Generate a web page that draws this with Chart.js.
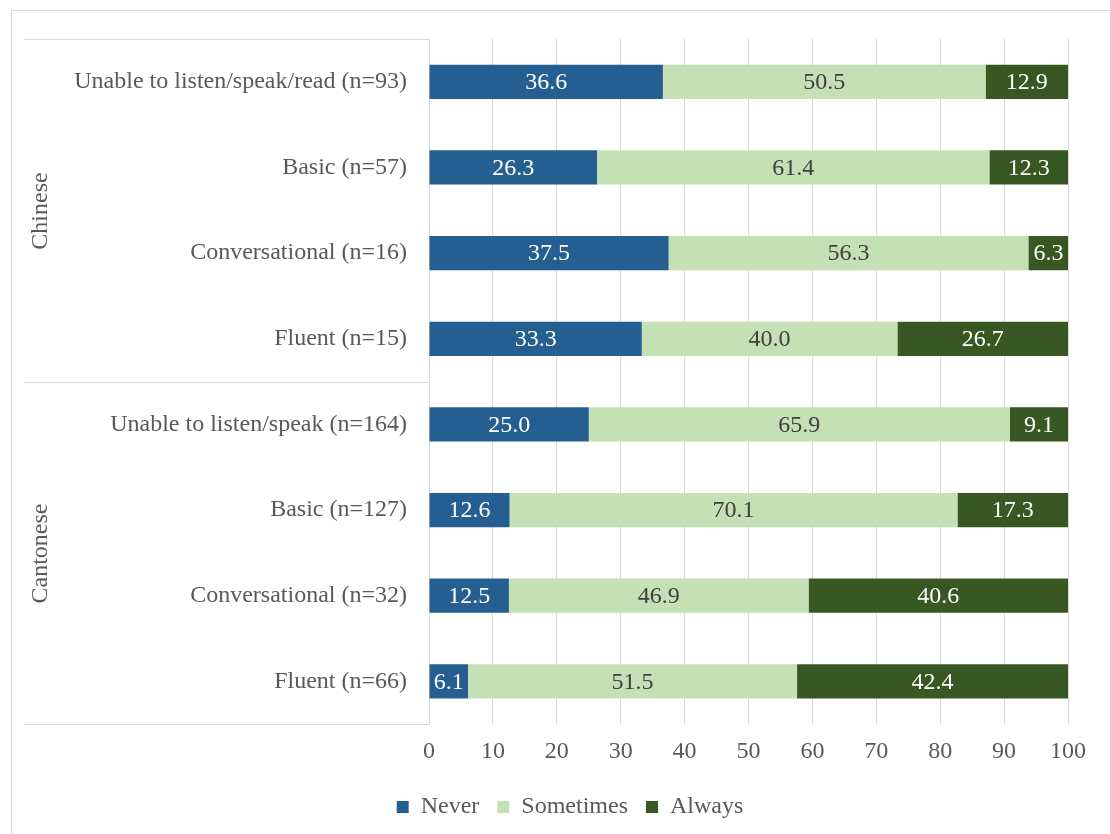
<!DOCTYPE html>
<html>
<head>
<meta charset="utf-8">
<script src="https://cdn.jsdelivr.net/npm/chart.js@4/dist/chart.umd.min.js"></script>
<style>
  body { margin: 0; background: #fff; }
</style>
</head>
<body>
<canvas id="langChart" width="1110" height="834"></canvas>
<script>
const categories = [
  "Unable to listen/speak/read (n=93)",
  "Basic (n=57)",
  "Conversational (n=16)",
  "Fluent (n=15)",
  "Unable to listen/speak (n=164)",
  "Basic (n=127)",
  "Conversational (n=32)",
  "Fluent (n=66)"
];
const groups = [
  { name: "Chinese", from: 0, to: 3 },
  { name: "Cantonese", from: 4, to: 7 }
];
const neverVals = [36.6, 26.3, 37.5, 33.3, 25.0, 12.6, 12.5, 6.1];
const sometimesVals = [50.5, 61.4, 56.3, 40.0, 65.9, 70.1, 46.9, 51.5];
const alwaysVals = [12.9, 12.3, 6.3, 26.7, 9.1, 17.3, 40.6, 42.4];
const xTicks = [0, 10, 20, 30, 40, 50, 60, 70, 80, 90, 100];

const FONT = "'Liberation Serif', 'Times New Roman', serif";
const TEXT = "#595959";
const LINE = "#d9d9d9";

// frame, group column and its labels
const groupColumn = {
  id: "groupColumn",
  afterDraw(chart) {
    const { ctx, chartArea } = chart;
    const y = chart.scales.y;
    const left = 24;
    const right = Math.round(chartArea.left) + 0.5;
    ctx.save();
    ctx.strokeStyle = LINE;
    ctx.lineWidth = 1;
    ctx.strokeRect(11.5, 10.5, 1200, 900);

    const bounds = [Math.round(chartArea.top) + 0.5];
    groups.forEach(g => {
      const bottom = g.to === categories.length - 1
        ? chartArea.bottom
        : (y.getPixelForValue(g.to) + y.getPixelForValue(g.to + 1)) / 2;
      bounds.push(Math.round(bottom) + 0.5);
    });
    ctx.beginPath();
    bounds.forEach(b => { ctx.moveTo(left, b); ctx.lineTo(right, b); });
    ctx.stroke();

    ctx.fillStyle = TEXT;
    ctx.font = "24px " + FONT;
    ctx.textAlign = "center";
    ctx.textBaseline = "middle";
    groups.forEach((g, i) => {
      const cy = (bounds[i] + bounds[i + 1]) / 2;
      ctx.save();
      ctx.translate(41, cy);
      ctx.rotate(-Math.PI / 2);
      ctx.fillText(g.name, 0, 0);
      ctx.restore();
    });
    ctx.restore();
  }
};

// value labels inside each segment
const segmentLabels = {
  id: "segmentLabels",
  afterDatasetsDraw(chart) {
    const { ctx } = chart;
    ctx.save();
    ctx.font = "24px " + FONT;
    ctx.textAlign = "center";
    ctx.textBaseline = "middle";
    chart.data.datasets.forEach((ds, di) => {
      const meta = chart.getDatasetMeta(di);
      meta.data.forEach((bar, i) => {
        ctx.fillStyle = ds.labelColor;
        ctx.fillText(ds.data[i].toFixed(1), (bar.x + bar.base) / 2, bar.y + 1);
      });
    });
    ctx.restore();
  }
};

new Chart(document.getElementById("langChart"), {
  type: "bar",
  data: {
    labels: categories,
    datasets: [
      { label: "Never", data: neverVals, backgroundColor: "#255e91", labelColor: "#ffffff" },
      { label: "Sometimes", data: sometimesVals, backgroundColor: "#c5e0b4", labelColor: "#404040" },
      { label: "Always", data: alwaysVals, backgroundColor: "#385723", labelColor: "#ffffff" }
    ]
  },
  options: {
    indexAxis: "y",
    responsive: false,
    devicePixelRatio: 1,
    animation: false,
    layout: { padding: { top: 39, left: 72, right: 42, bottom: 5 } },
    datasets: { bar: { barPercentage: 0.5, categoryPercentage: 0.8, borderWidth: 0 } },
    scales: {
      x: {
        stacked: true,
        min: 0,
        max: 100,
        afterBuildTicks: s => { s.ticks = xTicks.map(v => ({ value: v })); },
        afterFit: s => { s.height -= 2; },
        grid: { color: LINE, drawTicks: false },
        border: { display: false },
        ticks: { padding: 13, color: TEXT, font: { family: FONT, size: 24 } }
      },
      y: {
        stacked: true,
        afterFit: s => { s.width = 357; },
        grid: { display: false, drawTicks: false },
        border: { display: true, color: LINE },
        ticks: { padding: 22, color: TEXT, font: { family: FONT, size: 24 } }
      }
    },
    plugins: {
      legend: {
        position: "bottom",
        labels: {
          boxWidth: 12,
          boxHeight: 12,
          padding: 18,
          color: TEXT,
          font: { family: FONT, size: 24 }
        }
      },
      tooltip: { enabled: false }
    }
  },
  plugins: [groupColumn, segmentLabels]
});
</script>
</body>
</html>
